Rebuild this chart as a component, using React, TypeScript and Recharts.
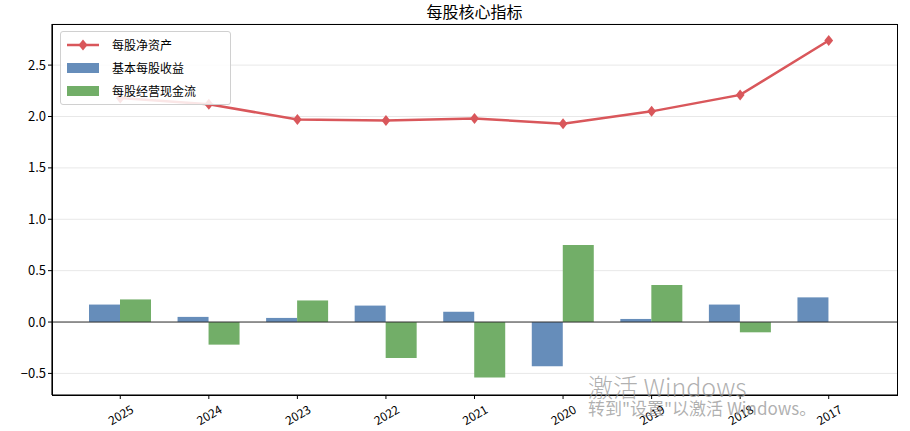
import {
  ComposedChart,
  Bar,
  Line,
  XAxis,
  YAxis,
  CartesianGrid,
  ReferenceLine,
  Legend,
} from "recharts";

const years = ["2025", "2024", "2023", "2022", "2021", "2020", "2019", "2018", "2017"];
const navPerShare = [2.18, 2.12, 1.97, 1.96, 1.98, 1.93, 2.05, 2.21, 2.74];
const basicEps = [0.17, 0.05, 0.04, 0.16, 0.1, -0.43, 0.03, 0.17, 0.24];
const opCashFlow = [0.22, -0.22, 0.21, -0.35, -0.54, 0.75, 0.36, -0.1, 0];
const yTicks = [-0.5, 0, 0.5, 1.0, 1.5, 2.0, 2.5];

const RED = "#d9575b";
const BLUE = "#668dba";
const GREEN = "#72ae68";
const FONT = "'Noto Sans CJK SC', 'DejaVu Sans', sans-serif";

// plot box (matches margins below)
const PLOT = { left: 52, top: 24, right: 897, bottom: 395 };

const data = years.map((y, i) => ({
  year: y,
  nav: navPerShare[i],
  eps: basicEps[i],
  cf: opCashFlow[i],
}));

const fmt = (v: number) => (v < 0 ? "\u2212" + Math.abs(v).toFixed(1) : v.toFixed(1));

function Diamond(props: any) {
  const { cx, cy } = props;
  if (cx == null || cy == null) return null;
  const r = 5.5;
  return (
    <polygon
      points={`${cx},${cy - r} ${cx + r * 0.8},${cy} ${cx},${cy + r} ${cx - r * 0.8},${cy}`}
      fill={RED}
    />
  );
}

function XTick(props: any) {
  const { x, y, payload } = props;
  const ty = y + 13;
  return (
    <text
      x={x}
      y={ty}
      textAnchor="middle"
      dominantBaseline="central"
      transform={`rotate(-30, ${x}, ${ty})`}
      fontSize={12}
      fill="#000"
      fontFamily={FONT}
    >
      {payload.value}
    </text>
  );
}

function LegendBox() {
  const row = { display: "flex", alignItems: "center", height: 23 } as const;
  const label = { marginLeft: 13, fontSize: 12, color: "#000" } as const;
  return (
    <div
      style={{
        width: 163,
        height: 71,
        border: "1px solid #d0d0d0",
        borderRadius: 3,
        background: "rgba(255,255,255,0.85)",
        boxSizing: "content-box",
        padding: "1px 0 0 6px",
        fontFamily: FONT,
      }}
    >
      <div style={row}>
        <svg width={32} height={12}>
          <line x1={0} y1={6} x2={32} y2={6} stroke={RED} strokeWidth={2.5} />
          <polygon points="16,0.5 20.5,6 16,11.5 11.5,6" fill={RED} />
        </svg>
        <span style={label}>每股净资产</span>
      </div>
      <div style={row}>
        <svg width={32} height={12}>
          <rect x={0} y={1} width={32} height={10} fill={BLUE} />
        </svg>
        <span style={label}>基本每股收益</span>
      </div>
      <div style={row}>
        <svg width={32} height={12}>
          <rect x={0} y={1} width={32} height={10} fill={GREEN} />
        </svg>
        <span style={label}>每股经营现金流</span>
      </div>
    </div>
  );
}

export default function App() {
  return (
    <div style={{ position: "absolute", left: 0, top: 0, width: 910, height: 431, background: "#fff", overflow: "hidden" }}>
      <div
        style={{
          position: "absolute",
          left: 0,
          width: 949,
          top: 2,
          textAlign: "center",
          fontSize: 16,
          lineHeight: "18px",
          fontFamily: FONT,
          color: "#000",
        }}
      >
        每股核心指标
      </div>
      <ComposedChart
        width={910}
        height={431}
        data={data}
        margin={{ top: PLOT.top, right: 910 - PLOT.right, bottom: 0, left: 0 }}
        barGap={0}
        style={{ fontFamily: FONT }}
      >
        <CartesianGrid vertical={false} stroke="#e8e8e8" strokeWidth={1} />
        <XAxis
          dataKey="year"
          padding={{ left: 24, right: 24 }}
          axisLine={{ stroke: "#000", strokeWidth: 1.2 }}
          tickLine={{ stroke: "#000" }}
          tickSize={4}
          tick={<XTick />}
          interval={0}
          height={431 - PLOT.bottom}
        />
        <YAxis
          type="number"
          domain={[-0.71, 2.9]}
          ticks={yTicks}
          tickFormatter={fmt}
          width={PLOT.left}
          axisLine={{ stroke: "#000", strokeWidth: 1.2 }}
          tickLine={{ stroke: "#000" }}
          tickSize={4}
          tick={{ fill: "#000", fontSize: 13, fontFamily: FONT }}
          allowDataOverflow
        />
        <ReferenceLine y={0} stroke="#333" strokeWidth={1} />
        <Bar dataKey="eps" name="基本每股收益" fill={BLUE} barSize={31} isAnimationActive={false} />
        <Bar dataKey="cf" name="每股经营现金流" fill={GREEN} barSize={31} isAnimationActive={false} />
        <Line
          dataKey="nav"
          name="每股净资产"
          stroke={RED}
          strokeWidth={2.5}
          dot={<Diamond />}
          activeDot={false}
          isAnimationActive={false}
        />
        <Legend
          layout="vertical"
          align="center"
          verticalAlign="middle"
          wrapperStyle={{ left: 60, top: 31, width: 170, height: 75 }}
          content={() => <LegendBox />}
        />
      </ComposedChart>
      {/* full frame around the plot (top and right spines) */}
      <div
        style={{
          position: "absolute",
          left: PLOT.left - 0.5,
          top: PLOT.top - 0.5,
          width: PLOT.right - PLOT.left + 1,
          height: PLOT.bottom - PLOT.top + 1,
          border: "1.2px solid #000",
          boxSizing: "border-box",
          pointerEvents: "none",
        }}
      />
      <div
        style={{
          position: "absolute",
          left: 588,
          top: 373,
          fontFamily: "'Noto Sans CJK SC', sans-serif",
          color: "rgba(150,150,150,0.75)",
          lineHeight: 1.1,
          pointerEvents: "none",
          whiteSpace: "nowrap",
        }}
      >
        <div style={{ fontSize: 25, fontWeight: 300 }}>激活 Windows</div>
        <div style={{ fontSize: 17, marginTop: -2 }}>转到"设置"以激活 Windows。</div>
      </div>
    </div>
  );
}
